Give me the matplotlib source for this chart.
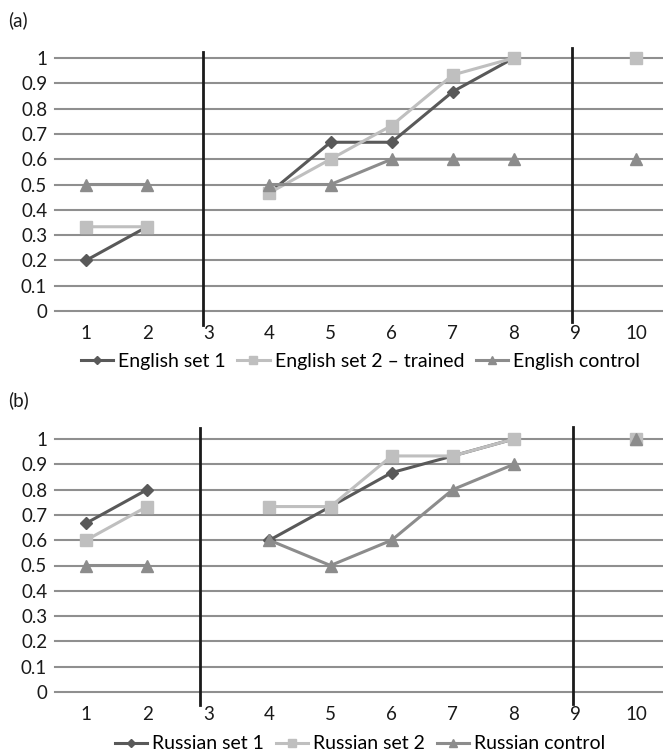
import numpy as np
import matplotlib
matplotlib.use("Agg")
import matplotlib.pyplot as plt

plt.rcParams['font.family'] = ['Lato', 'DejaVu Sans']

x = [1, 2, 3, 4, 5, 6, 7, 8, 9, 10]
nan = np.nan
eng_set1 = [0.2, 0.333, nan, 0.467, 0.667, 0.667, 0.867, 1.0, nan, nan]
eng_set2 = [0.333, 0.333, nan, 0.467, 0.6, 0.733, 0.933, 1.0, nan, 1.0]
eng_ctrl = [0.5, 0.5, nan, 0.5, 0.5, 0.6, 0.6, 0.6, nan, 0.6]
rus_set1 = [0.667, 0.8, nan, 0.6, 0.733, 0.867, 0.933, 1.0, nan, nan]
rus_set2 = [0.6, 0.733, nan, 0.733, 0.733, 0.933, 0.933, 1.0, nan, 1.0]
rus_ctrl = [0.5, 0.5, nan, 0.6, 0.5, 0.6, 0.8, 0.9, nan, 1.0]
yticks = [0, 0.1, 0.2, 0.3, 0.4, 0.5, 0.6, 0.7, 0.8, 0.9, 1]
ytick_labels = ['0', '0.1', '0.2', '0.3', '0.4', '0.5', '0.6', '0.7', '0.8', '0.9', '1']
dividers_a = [2.92, 8.95]
dividers_b = [2.87, 8.97]

c1, c2, c3 = '#595959', '#bfbfbf', '#8c8c8c'
FS = 13.5
W, H = 663, 753
fig = plt.figure(figsize=(W/100, H/100), dpi=100)

def make_axes(top_px, bot_px):
    left = 55.5 / W
    return fig.add_axes([left, 1 - bot_px / H, 1 - left, (bot_px - top_px) / H])

def draw(ax, s1, s2, s3, names, dividers, vspans):
    ax.set_xlim(0.5, 10.44)
    ax.set_ylim(0, 1)
    for t in yticks:
        ax.axhline(t, color='#8f8f8f', lw=1.5, zorder=1, clip_on=False)
    for d, (lo, hi) in zip(dividers, vspans):
        ax.plot([d, d], [lo, hi], color='#1a1a1a', lw=2, zorder=2, clip_on=False)
    xs = np.array(x, dtype=float)
    ax.plot(xs, s1, color=c1, lw=2.2, marker='D', ms=6, label=names[0], zorder=3, clip_on=False)
    ax.plot(xs, s2, color=c2, lw=2.2, marker='s', ms=8, label=names[1], zorder=4, clip_on=False)
    ax.plot(xs, s3, color=c3, lw=2.2, marker='^', ms=8, label=names[2], zorder=5, clip_on=False)
    for sp in ax.spines.values():
        sp.set_visible(False)
    ax.set_xticks(x)
    ax.set_xticklabels([str(v) for v in x])
    ax.set_yticks(yticks)
    ax.set_yticklabels(ytick_labels)
    ax.tick_params(length=0, labelsize=FS, colors='#1a1a1a')
    ax.tick_params(axis='x', pad=10)
    ax.tick_params(axis='y', pad=6)
    return ax

LEG = dict(loc='center', ncol=3, frameon=False, fontsize=14, handlelength=1.65,
           columnspacing=0.62, handletextpad=0.26, markerscale=0.75)

ax1 = make_axes(58, 311)
draw(ax1, eng_set1, eng_set2, eng_ctrl,
     ['English set 1', 'English set 2 – trained', 'English control'],
     dividers_a, [(-0.055, 1.024), (-0.043, 1.04)])
ax1.legend(bbox_to_anchor=(0.502, -0.2), **LEG)

ax2 = make_axes(439, 692)
draw(ax2, rus_set1, rus_set2, rus_ctrl,
     ['Russian set 1', 'Russian set 2', 'Russian control'],
     dividers_b, [(-0.051, 1.043), (-0.047, 1.047)])
ax2.legend(bbox_to_anchor=(0.502, -0.205), **LEG)

fig.text(8 / W, 1 - 20 / H, '(a)', fontsize=FS, va='center', ha='left', color='#1a1a1a')
fig.text(8 / W, 1 - 400 / H, '(b)', fontsize=FS, va='center', ha='left', color='#1a1a1a')

fig.savefig('out.png', dpi=100, facecolor='white')
